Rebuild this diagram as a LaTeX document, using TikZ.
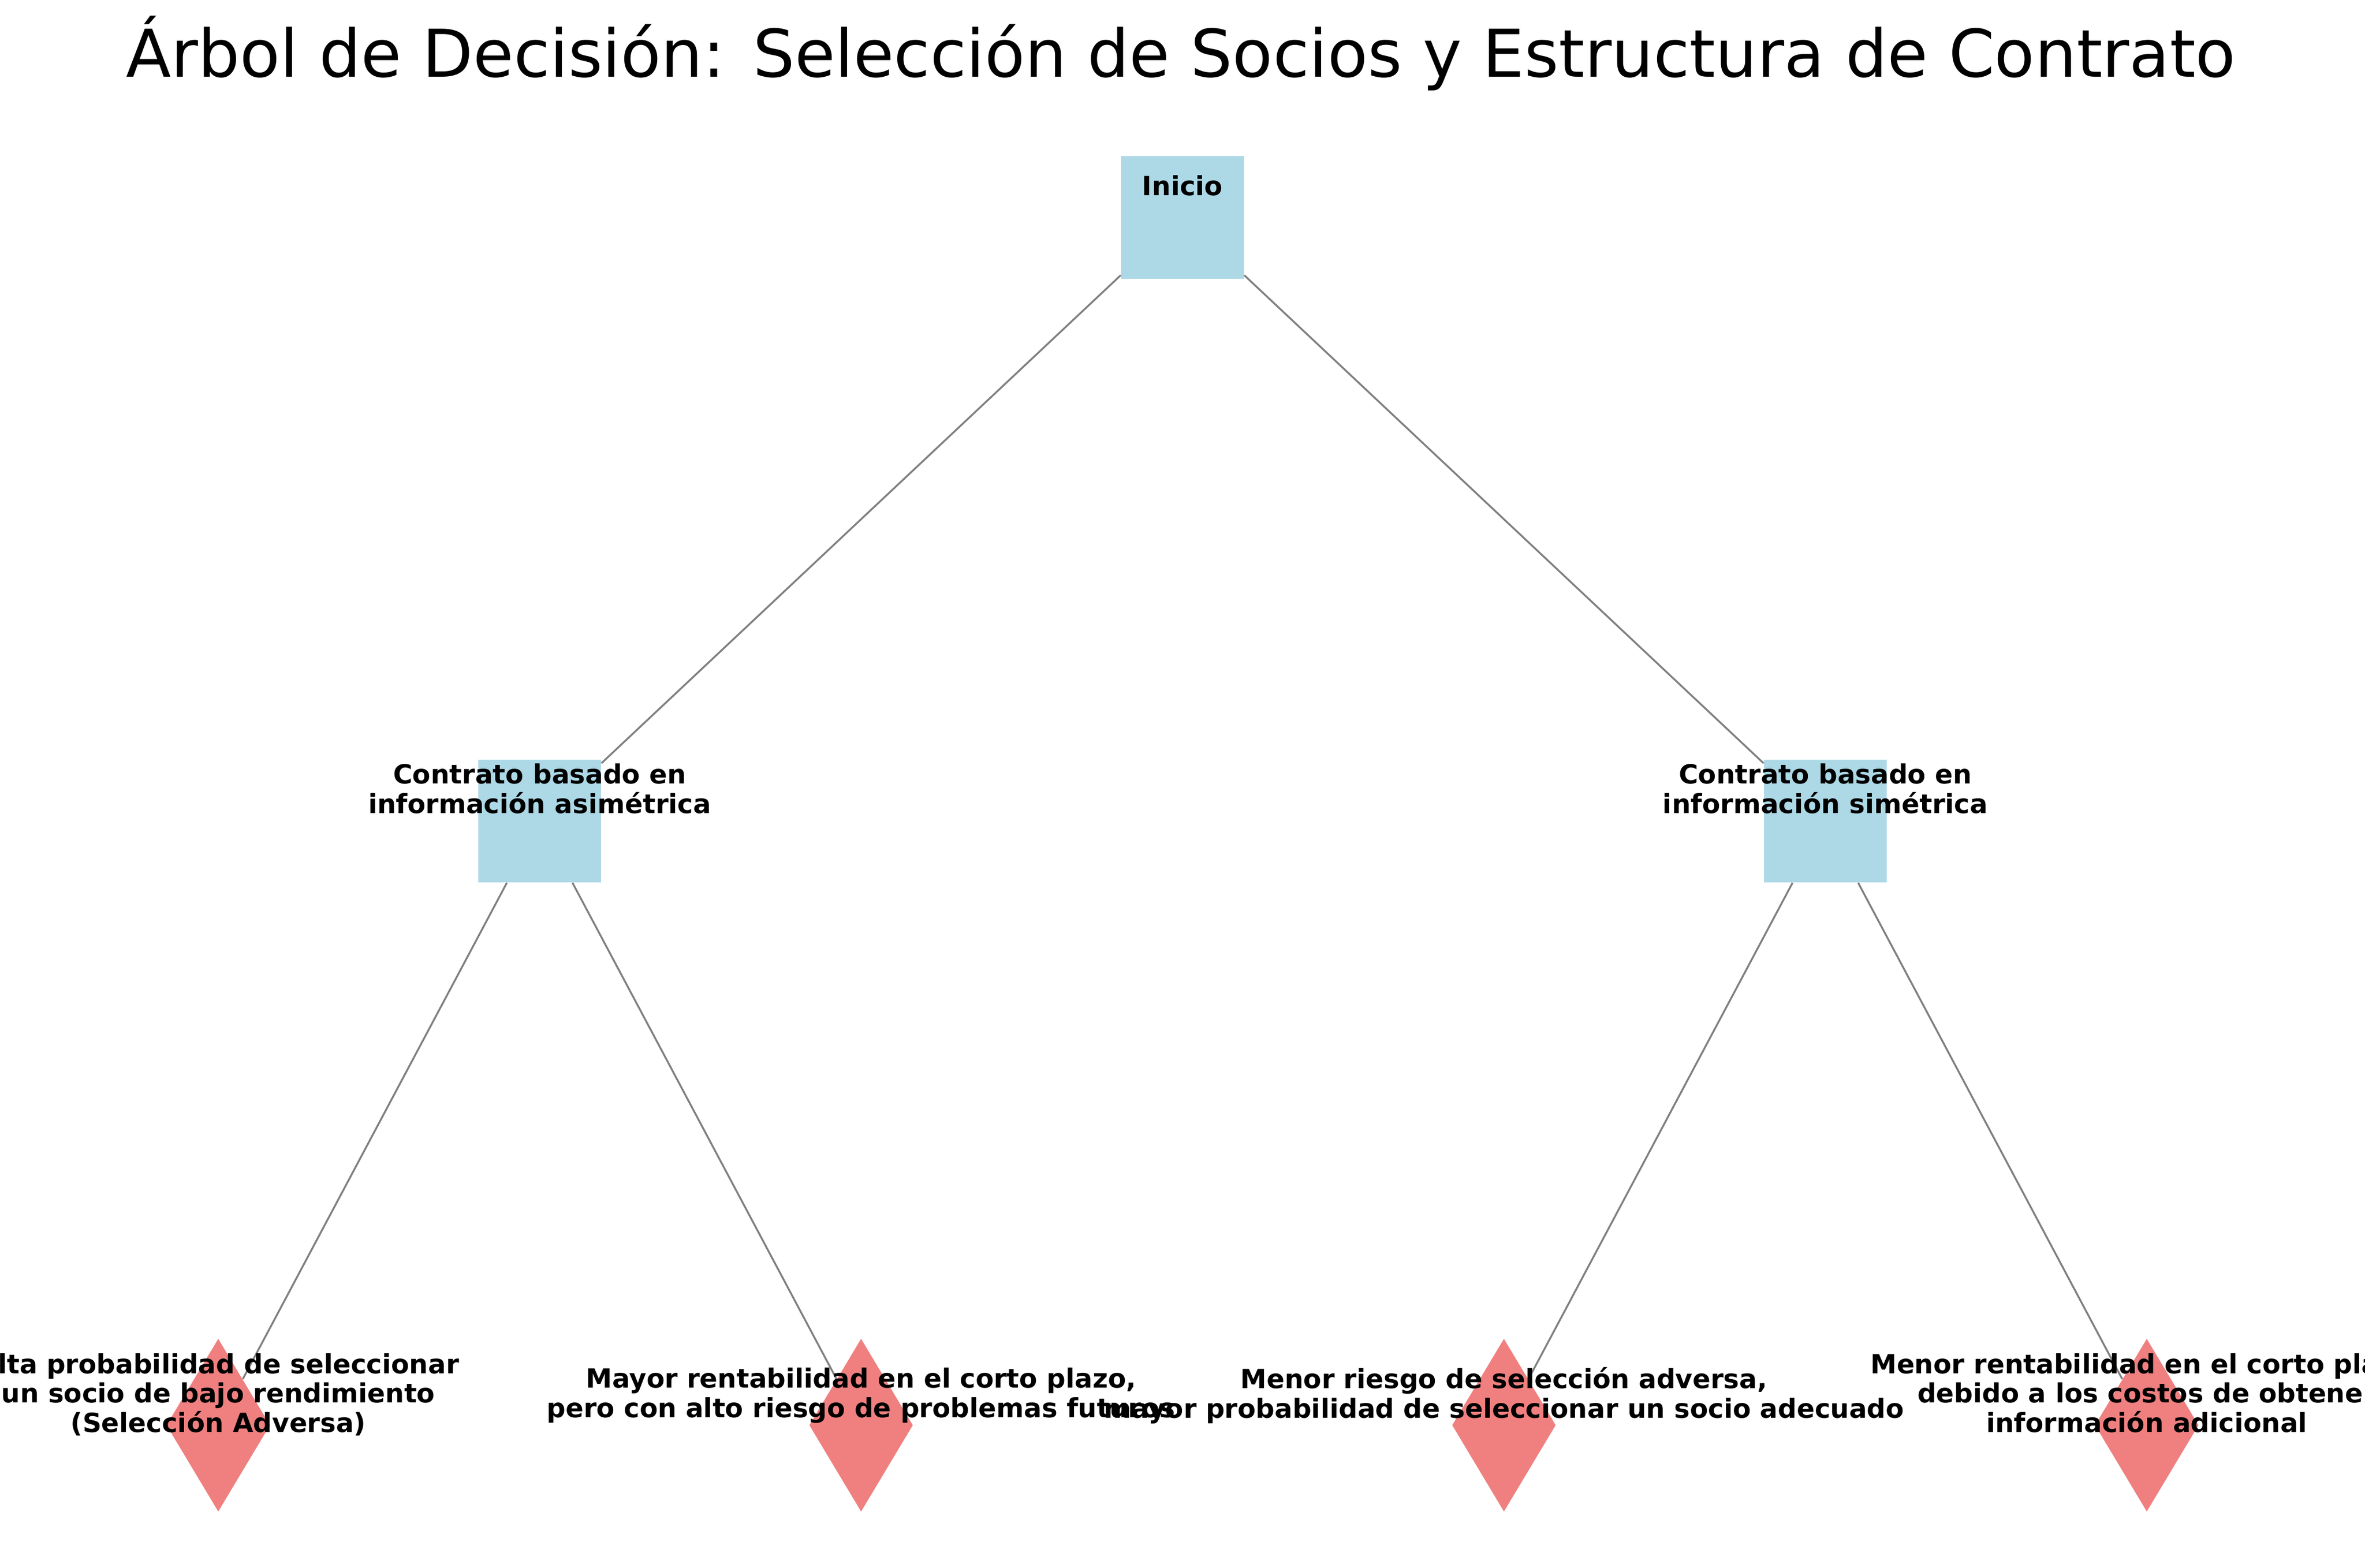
\documentclass[tikz,border=0pt]{standalone}
\usepackage{fontspec}
\setmainfont{DejaVu Sans}
\usetikzlibrary{shapes.geometric}

\definecolor{boxblue}{HTML}{ADD8E6}
\definecolor{leafred}{HTML}{F08080}
\definecolor{edgegray}{HTML}{808080}

\tikzset{
  decision/.style={rectangle, fill=boxblue, minimum size=23.2mm, inner sep=0pt},
  outcome/.style={diamond, fill=leafred, minimum width=19.6mm, minimum height=32.7mm, inner sep=0pt},
  branch/.style={draw=edgegray, line width=1pt},
  tag/.style={font=\bfseries\fontsize{14.2}{15.8}\selectfont, align=center, inner sep=0pt,
    execute at begin node=\strut, execute at end node=\strut},
}

\begin{document}
\begin{tikzpicture}[x=1mm, y=-1mm]
\useasboundingbox (0,0) rectangle (447,296.4);

% Title
\node[anchor=base, font=\fontsize{35.4}{42}\selectfont] (title) at (223.2,14.6)
  {Árbol de Decisión: Selección de Socios y Estructura de Contrato};

% Decision nodes
\node[decision] (inicio) at (223.5,41.1) {};
\node[decision] (asim) at (102,155.2) {};
\node[decision] (sim) at (345,155.2) {};

% Outcome nodes
\node[outcome] (alta) at (41.25,269.4) {};
\node[outcome] (mayor) at (162.75,269.4) {};
\node[outcome] (riesgo) at (284.25,269.4) {};
\node[outcome] (menor) at (405.75,269.4) {};

% Branches
\foreach \a/\b in {inicio/asim, inicio/sim, asim/alta, asim/mayor, sim/riesgo, sim/menor}
  \draw[branch] (\a) -- (\b);

% Labels
\node[tag] (inicio-t) at ([yshift=5.3mm]inicio.center) {Inicio};
\node[tag] (asim-t) at ([yshift=5.3mm]asim.center) {Contrato basado en\\información asimétrica};
\node[tag] (sim-t) at ([yshift=5.3mm]sim.center) {Contrato basado en\\información simétrica};
\node[tag] (alta-t) at ([yshift=5.3mm]alta.center)
  {Alta probabilidad de seleccionar\\un socio de bajo rendimiento\\(Selección Adversa)};
\node[tag] (mayor-t) at ([yshift=5.3mm]mayor.center)
  {Mayor rentabilidad en el corto plazo,\\pero con alto riesgo de problemas futuros};
\node[tag] (riesgo-t) at ([yshift=5.3mm]riesgo.center)
  {Menor riesgo de selección adversa,\\mayor probabilidad de seleccionar un socio adecuado};
\node[tag] (menor-t) at ([yshift=5.3mm]menor.center)
  {Menor rentabilidad en el corto plazo,\\debido a los costos de obtener\\información adicional};

\end{tikzpicture}
\end{document}
